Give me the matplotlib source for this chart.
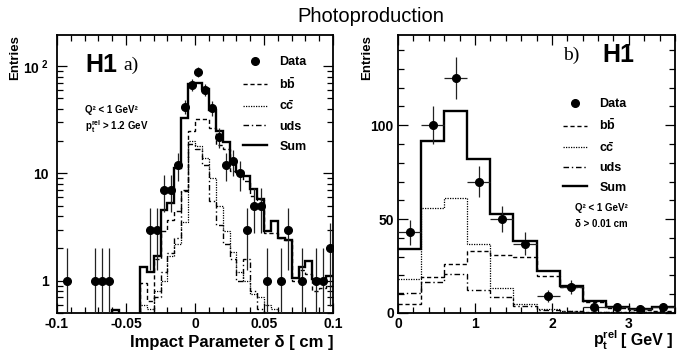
import numpy as np
import matplotlib.pyplot as plt
from matplotlib.lines import Line2D
from matplotlib.ticker import (MultipleLocator, LogLocator, NullFormatter,
                               FuncFormatter, FixedLocator, FixedFormatter)

plt.rcParams['font.family'] = 'Liberation Sans'
plt.rcParams['font.weight'] = 'bold'
plt.rcParams['mathtext.fontset'] = 'custom'
plt.rcParams['mathtext.rm'] = 'Liberation Sans:bold'
plt.rcParams['mathtext.bf'] = 'Liberation Sans:bold'
plt.rcParams['mathtext.it'] = 'Liberation Sans:bold'

# --- a) impact parameter, 40 bins of 0.005 cm ---
ip_edges = np.linspace(-0.1, 0.1, 41)
ip_data = [0, 1, 0, 0, 0, 1, 1, 1, 0, 0,
           0, 0, 0, 3, 3, 7, 7, 12, 42, 67,
           88, 60, 41, 22, 12, 13, 10, 3, 5, 5,
           1, 0, 1, 3, 0, 1, 0, 1, 1, 2]
ip_sum = [0, 0, 0, 0, 0, 0, 0, 0, 0.53, 0,
          0, 0, 1.35, 1.2, 1.7, 4.6, 5.3, 11.3, 33, 68,
          69, 61, 39, 25, 19.5, 12.5, 10.4, 9.4, 7.1, 5.8,
          2.9, 3.6, 2.5, 2.4, 1.07, 1.33, 1.53, 1.04, 1.0, 1.1]
ip_bb = [0, 0, 0, 0, 0, 0, 0, 0, 0, 0,
         0, 0, 0.95, 0.65, 1.6, 2.9, 3.7, 4.5, 6.8, 25,
         32, 32, 26.5, 18.5, 17, 10.5, 9.8, 8.5, 6.2, 5.7,
         2.8, 2.8, 2.5, 2.4, 1.0, 1.25, 1.15, 0.8, 0.85, 0.9]
ip_cc = [0, 0, 0, 0, 0, 0, 0, 0, 0, 0,
         0, 0, 0.6, 0.55, 0.8, 1.0, 1.7, 2.2, 3.5, 20,
         18, 14, 9, 5, 2.9, 1.85, 1.2, 1.0, 0.75, 0.7,
         0.6, 0.55, 0, 0, 0, 0, 0, 0, 0, 0]
ip_uds = [0, 0, 0, 0, 0, 0, 0, 0, 0, 0,
          0, 0, 0, 0.5, 0.7, 1.2, 1.8, 2.5, 7, 19,
          17, 12, 5.5, 3.3, 2.2, 1.6, 1.0, 1.6, 0.8, 0.55,
          0, 0, 0, 0, 0, 0, 0, 0, 0, 0]

# --- b) pt rel, 12 bins of 0.3 GeV ---
pt_edges = np.linspace(0, 3.6, 13)
pt_data = [43, 100, 125, 70, 50, 37, 9, 14, 3, 3, 2, 3]
pt_sum = [34, 91.5, 107.5, 82, 52.5, 38.5, 22.5, 14.3, 6.5, 3, 2.1, 3]
pt_bb = [5, 19, 26, 33, 31, 30, 19.5, 14, 6, 2.5, 1.8, 1]
pt_cc = [18, 56, 61, 37, 13.5, 5, 2, 1, 0.4, 0.3, 0.3, 0.3]
pt_uds = [10.5, 16.5, 20.5, 12, 8.3, 3.5, 1.5, 1, 0.5, 0.4, 0.3, 0.3]

W, H = 693, 353
styles = {
    'bb': dict(lw=1.0, linestyle=(0, (3, 2))),
    'cc': dict(lw=0.9, linestyle=(0, (1, 1))),
    'uds': dict(lw=1.0, linestyle=(0, (4, 2, 1, 2))),
    'sum': dict(lw=1.7, linestyle='-'),
}


def draw_hists(ax, edges, comps, log):
    for key, vals in comps:
        v = np.asarray(vals, dtype=float)
        if log:
            v = np.where(v > 0, v, 1e-3)
        ax.stairs(v, edges, baseline=None, color='black', **styles[key])


def draw_data(ax, edges, counts, xerr, log):
    centers = 0.5 * (edges[1:] + edges[:-1])
    y = np.asarray(counts, dtype=float)
    keep = y > 0
    x, y = centers[keep], y[keep]
    err = np.sqrt(y)
    lo = np.minimum(err, y - 1e-3) if log else err
    ax.errorbar(x, y, yerr=[lo, err],
                xerr=(np.diff(edges)[keep] / 2 if xerr else None),
                fmt='o', color='black', ms=5.5, ecolor='#222222',
                elinewidth=0.9, capsize=0, zorder=5)


def frame(ax):
    for s in ax.spines.values():
        s.set_linewidth(1.3)
    ax.tick_params(which='both', direction='in', top=True, right=True,
                   labelsize=10, width=0.9)
    ax.tick_params(which='major', length=7)
    ax.tick_params(which='minor', length=4)


def legend(ax, anchor, spacing):
    handles = [
        Line2D([], [], marker='o', ls='none', color='black', ms=5.5),
        Line2D([], [], color='black', **styles['bb']),
        Line2D([], [], color='black', **styles['cc']),
        Line2D([], [], color='black', **styles['uds']),
        Line2D([], [], color='black', **styles['sum']),
    ]
    labels = ['Data', r'$\mathbf{b\bar{b}}$', r'$\mathbf{c\bar{c}}$', 'uds', 'Sum']
    ax.legend(handles, labels, loc='upper left', bbox_to_anchor=anchor,
              frameon=False, borderpad=0, borderaxespad=0,
              handlelength=1.9, handletextpad=1.0, labelspacing=spacing,
              prop=dict(size=9, weight='bold'))


fig = plt.figure(figsize=(W / 100, H / 100), dpi=100)
axL = fig.add_axes([57 / W, 40 / H, 276 / W, 278 / H])
axR = fig.add_axes([398 / W, 40 / H, 277 / W, 278 / H])

# left panel: impact parameter, log scale
draw_hists(axL, ip_edges, [('uds', ip_uds), ('cc', ip_cc), ('bb', ip_bb),
                           ('sum', ip_sum)], log=True)
draw_data(axL, ip_edges, ip_data, xerr=False, log=True)
axL.set_yscale('log')
axL.set_xlim(-0.1, 0.1)
axL.set_ylim(0.5, 195)
axL.xaxis.set_major_locator(MultipleLocator(0.05))
axL.xaxis.set_minor_locator(MultipleLocator(0.01))
axL.xaxis.set_major_formatter(FuncFormatter(lambda v, _: f'{round(v, 3) + 0.0:g}'))
axL.yaxis.set_major_locator(FixedLocator([1, 10, 100]))
axL.yaxis.set_major_formatter(FixedFormatter(['1', '10', r'$\mathbf{10^{\ 2}}$']))
axL.yaxis.set_minor_locator(LogLocator(subs=np.arange(2, 10)))
axL.yaxis.set_minor_formatter(NullFormatter())
frame(axL)
axL.tick_params(axis='x', pad=3)
axL.tick_params(axis='y', pad=6)
legend(axL, ((243 - 57) / 276, 1 - (56 - 35) / 278), 0.62)

axL.text((85 - 57) / 276, 1 - (65 - 35) / 278, 'H1', transform=axL.transAxes,
         fontsize=18, fontweight='bold', va='center', ha='left')
axL.text((123 - 57) / 276, 1 - (65 - 35) / 278, 'a)', transform=axL.transAxes,
         fontsize=14, fontweight='normal', family='Liberation Serif',
         va='center', ha='left')
axL.text((85 - 57) / 276, 1 - (110 - 35) / 278, 'Q² < 1 GeV²',
         transform=axL.transAxes, fontsize=7, va='center', ha='left')
axL.text((85 - 57) / 276, 1 - (127 - 35) / 278,
         r'$\mathbf{p_{t}^{rel}}$ > 1.2 GeV',
         transform=axL.transAxes, fontsize=7, va='center', ha='left')

# right panel: pt rel, linear scale
draw_hists(axR, pt_edges, [('uds', pt_uds), ('cc', pt_cc), ('bb', pt_bb),
                           ('sum', pt_sum)], log=False)
draw_data(axR, pt_edges, pt_data, xerr=True, log=False)
axR.set_xlim(0, 3.6)
axR.set_ylim(0, 148)
axR.xaxis.set_major_locator(MultipleLocator(1))
axR.xaxis.set_minor_locator(MultipleLocator(0.2))
axR.yaxis.set_major_locator(MultipleLocator(50))
axR.yaxis.set_minor_locator(MultipleLocator(10))
frame(axR)
axR.tick_params(axis='x', pad=3)
axR.tick_params(axis='y', pad=3)
legend(axR, ((563 - 398) / 277, 1 - (98 - 35) / 278), 0.6)

axR.text((602 - 398) / 277, 1 - (55 - 35) / 278, 'H1', transform=axR.transAxes,
         fontsize=18, fontweight='bold', va='center', ha='left')
axR.text((563 - 398) / 277, 1 - (55 - 35) / 278, 'b)', transform=axR.transAxes,
         fontsize=14, fontweight='normal', family='Liberation Serif',
         va='center', ha='left')
axR.text((575 - 398) / 277, 1 - (208 - 35) / 278, 'Q² < 1 GeV²',
         transform=axR.transAxes, fontsize=7, va='center', ha='left')
axR.text((575 - 398) / 277, 1 - (224 - 35) / 278, 'δ > 0.01 cm',
         transform=axR.transAxes, fontsize=7, va='center', ha='left')

# axis titles and heading
fig.text(371 / W, 1 - 22.5 / H, 'Photoproduction', fontsize=14.5,
         fontweight='normal', ha='center', va='baseline')
fig.text(15 / W, 1 - 35 / H, 'Entries', rotation=90, fontsize=9.5,
         ha='center', va='top')
fig.text(367 / W, 1 - 35 / H, 'Entries', rotation=90, fontsize=9.5,
         ha='center', va='top')
fig.text(333 / W, 1 - 342 / H, 'Impact Parameter δ [ cm ]', fontsize=12,
         ha='right', va='center')
fig.text(618 / W, 1 - 345 / H, r'$\mathbf{p_{t}^{rel}}$', fontsize=11.5,
         ha='right', va='baseline')
fig.text(673 / W, 1 - 345 / H, '[ GeV ]', fontsize=11.5,
         ha='right', va='baseline')

fig.savefig('out.png', dpi=100)
